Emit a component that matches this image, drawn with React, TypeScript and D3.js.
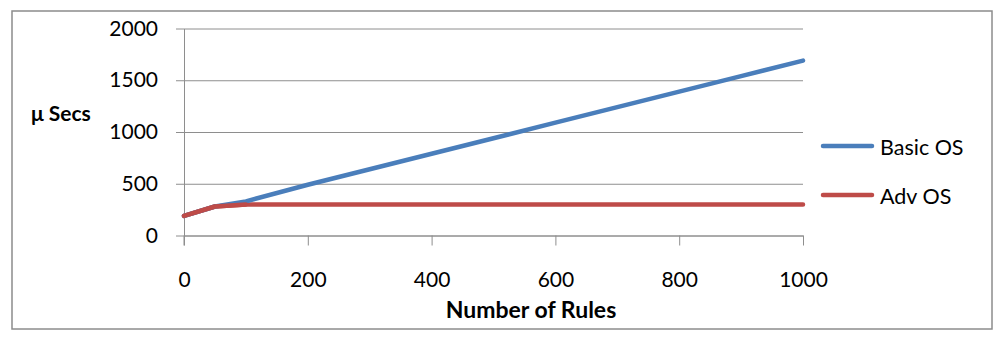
import React, { useEffect, useRef } from 'react';
import * as d3 from 'd3';

const rules = [0, 50, 100, 200, 300, 400, 500, 600, 700, 800, 900, 1000];
const basicOS = [190, 280, 330, 490, 640, 790, 940, 1090, 1240, 1390, 1540, 1690];
const advOS = [190, 280, 300, 300, 300, 300, 300, 300, 300, 300, 300, 300];
const xTicks = [0, 200, 400, 600, 800, 1000];
const yTicks = [0, 500, 1000, 1500, 2000];
const seriesNames = ['Basic OS', 'Adv OS'];
const seriesColors = ['#4A7EBB', '#BE4B48'];

const FONT = 'Lato, Calibri, sans-serif';
const GRID = '#8e8e8e';

const App: React.FC = () => {
  const svgRef = useRef<SVGSVGElement>(null);
  useEffect(() => {
    const svg = d3.select(svgRef.current);
    svg.selectAll('*').remove();

    const x = d3.scaleLinear().domain([0, 1000]).range([184, 803]);
    const y = d3.scaleLinear().domain([0, 2000]).range([235.5, 28.5]);
    const fmt = d3.format('d');

    // outer frame
    svg.append('rect')
      .attr('x', 12).attr('y', 11)
      .attr('width', 980).attr('height', 318)
      .attr('fill', '#fff')
      .attr('stroke', '#8c8c8c')
      .attr('stroke-width', 1.5);

    // gridlines
    const grid = svg.append('g')
      .attr('transform', `translate(184,0)`)
      .call(d3.axisLeft(y).tickValues(yTicks).tickSize(-(803 - 184)).tickFormat(() => ''));
    grid.select('.domain').remove();
    grid.selectAll('line').attr('stroke', GRID).attr('stroke-width', 1);

    // y axis
    const yAxis = svg.append('g')
      .attr('transform', `translate(184,0)`)
      .call(d3.axisLeft(y).tickValues(yTicks).tickFormat(d => fmt(d as number))
        .tickSize(8).tickPadding(18).tickSizeOuter(0));
    yAxis.select('.domain').attr('stroke', GRID);
    yAxis.selectAll('line').attr('stroke', GRID);
    yAxis.selectAll('text')
      .attr('font-family', FONT).attr('font-size', 21).attr('fill', '#000');

    // x axis
    const xAxis = svg.append('g')
      .attr('transform', `translate(0,${y(0)})`)
      .call(d3.axisBottom(x).tickValues(xTicks).tickFormat(d => fmt(d as number))
        .tickSize(10).tickPadding(27).tickSizeOuter(0));
    xAxis.select('.domain').attr('stroke', GRID);
    xAxis.selectAll('line').attr('stroke', GRID);
    xAxis.selectAll('text')
      .attr('font-family', FONT).attr('font-size', 21).attr('fill', '#000')
      .attr('dy', '0.71em');
    svg.append('line')
      .attr('x1', 184).attr('x2', 184)
      .attr('y1', y(0)).attr('y2', y(0) + 10)
      .attr('stroke', GRID);

    // lines
    const line = d3.line<number>()
      .x((_, i) => x(rules[i]))
      .y(d => y(d));
    svg.append('path')
      .datum(advOS)
      .attr('fill', 'none')
      .attr('stroke', seriesColors[1])
      .attr('stroke-width', 4.5)
      .attr('stroke-linejoin', 'round')
      .attr('stroke-linecap', 'round')
      .attr('d', line);
    svg.append('path')
      .datum(basicOS)
      .attr('fill', 'none')
      .attr('stroke', seriesColors[0])
      .attr('stroke-width', 4.5)
      .attr('stroke-linejoin', 'round')
      .attr('stroke-linecap', 'round')
      .attr('d', line);
    // red drawn again on the shared start so it sits on top there
    svg.append('path')
      .datum(advOS.slice(0, 3))
      .attr('fill', 'none')
      .attr('stroke', seriesColors[1])
      .attr('stroke-width', 4.5)
      .attr('stroke-linejoin', 'round')
      .attr('stroke-linecap', 'round')
      .attr('d', line);

    // axis titles
    svg.append('text')
      .attr('x', 31).attr('y', 121)
      .attr('font-family', FONT).attr('font-size', 21).attr('font-weight', 'bold')
      .text('μ Secs');
    svg.append('text')
      .attr('x', 531).attr('y', 318)
      .attr('text-anchor', 'middle')
      .attr('font-family', FONT).attr('font-size', 23).attr('font-weight', 'bold')
      .text('Number of Rules');

    // legend
    const legend = svg.append('g');
    seriesNames.forEach((name, i) => {
      const ly = 146 + i * 49;
      legend.append('line')
        .attr('x1', 823).attr('x2', 872)
        .attr('y1', ly).attr('y2', ly)
        .attr('stroke', seriesColors[i])
        .attr('stroke-width', 4.5)
        .attr('stroke-linecap', 'round');
      legend.append('text')
        .attr('x', 880).attr('y', ly + 9)
        .attr('font-family', FONT).attr('font-size', 21.5)
        .text(name);
    });
  }, []);

  return (
    <svg
      ref={svgRef}
      width={1000}
      height={340}
      style={{ position: 'absolute', left: 0, top: 0, background: '#fff' }}
    />
  );
};

export default App;
